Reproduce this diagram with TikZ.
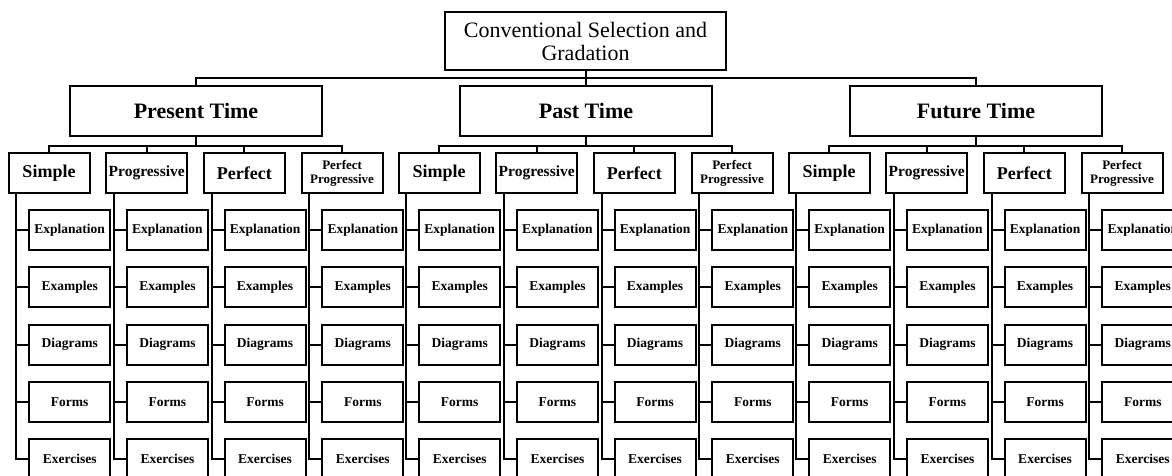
\documentclass[tikz,border=0pt]{standalone}
\usepackage{fontspec}
\setmainfont{Liberation Serif}
\usetikzlibrary{calc, positioning}

\tikzset{
  box/.style={draw, line width=2pt, inner sep=0pt, align=center, fill=white},
  rootbox/.style={box, minimum width=281pt, minimum height=58pt,
    font=\fontsize{22}{23}\selectfont},
  timebox/.style={box, minimum width=252pt, minimum height=50pt,
    font=\fontsize{22}{24}\selectfont\bfseries},
  tensebox/.style={box, minimum width=81pt, minimum height=40pt},
  leafbox/.style={box, minimum width=81pt, minimum height=40pt,
    font=\fontsize{13.5}{15}\selectfont\bfseries},
  link/.style={line width=2pt},
}

\begin{document}
\begin{tikzpicture}[x=1pt, y=-1pt]

    % =================================================================
    % 1. KHUNG HINH
    % =================================================================
    \useasboundingbox (0,0) rectangle (1172,476);

    % =================================================================
    % 2. NUT GOC VA DUONG NGANG
    % =================================================================
    \node[rootbox] (cs) at (585.5,41) {Conventional Selection and\\Gradation};
    \coordinate (bus) at (0,77.6);

    % =================================================================
    % 3. BA NHANH THOI GIAN, CAC THI VA CAC MUC
    % =================================================================
    \foreach \g/\gx/\gname in {0/196/Present Time, 1/586/Past Time, 2/976/Future Time} {
        \node[timebox] (T\g) at (\gx,111) {\gname};
        \draw[link] (cs.south) -- (cs.south |- bus) -| (T\g.north);

        \foreach \i/\lab/\fs in {1/Simple/18, 2/Progressive/15.5, 3/Perfect/18,
                                 4/{Perfect\\Progressive}/13} {
            \node[tensebox, font=\fontsize{\fs}{14}\selectfont\bfseries]
                (T\g-\i) at ({\gx-147+(\i-1)*97.7},173) {\lab};
            \draw[link] (T\g.south) -- ++(0,8.5) -| (T\g-\i.north);

            % truc doc ben trai
            \coordinate (T\g-\i-trunk) at ([xshift=8.7pt]T\g-\i.south west);

            \foreach \k/\item/\ky in {1/Explanation/230, 2/Examples/287.3,
                                      3/Diagrams/344.5, 4/Forms/401.8, 5/Exercises/459} {
                \node[leafbox] (T\g-\i-\k) at ({\gx-147+(\i-1)*97.7+20.7},\ky) {\item};
                \draw[link] (T\g-\i-trunk) |- (T\g-\i-\k.west);
            }
        }
    }

\end{tikzpicture}
\end{document}
